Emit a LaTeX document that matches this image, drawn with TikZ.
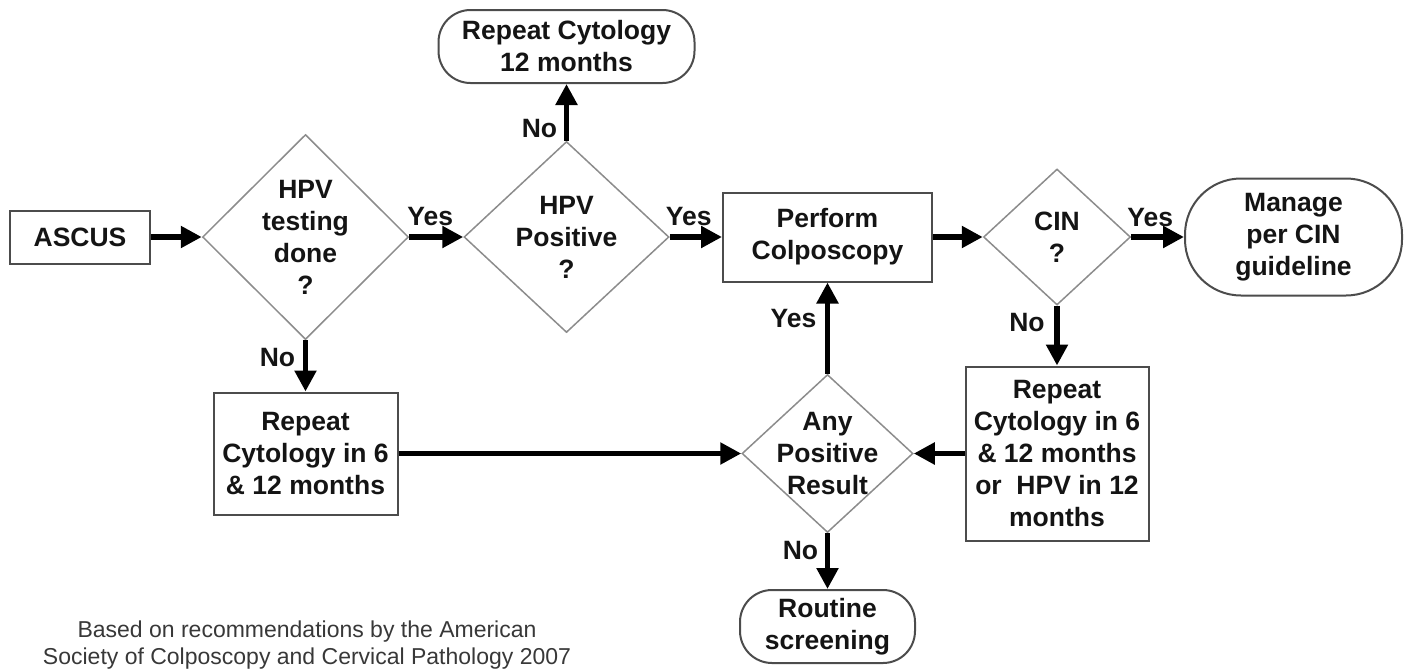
\documentclass[tikz,border=0pt]{standalone}
\usepackage{fontspec}
\setmainfont{Liberation Sans}
\usetikzlibrary{arrows.meta,shapes.geometric}
\begin{document}
\begin{tikzpicture}[x=1pt,y=-1pt,
  txt/.style={font=\bfseries\fontsize{26.5}{32}\selectfont, align=center, text=black!92},
  box/.style={txt, draw=black!70, line width=2pt, inner sep=0pt},
  term/.style={box, rounded corners=#1},
  dia/.style={draw=black!45, line width=1.5pt, shape=diamond, inner sep=0pt},
  arr/.style={line width=5.5pt, -{Triangle[length=21pt,width=21pt]}},
  lab/.style={txt, inner sep=0pt}
]
\useasboundingbox (0,0) rectangle (1405,670);

% nodes
\node[box, minimum width=140pt, minimum height=53pt] (ascus) at (80,237) {ASCUS};
\node[dia, minimum width=206pt, minimum height=205pt,
      label={[txt]center:{HPV\\testing\\done\\?}}] (d1) at (305.5,237) {};
\node[term=32pt, minimum width=256pt, minimum height=73pt] (rc12) at (566.5,46.5) {Repeat Cytology\\12 months};
\node[dia, minimum width=205pt, minimum height=191pt,
      label={[txt]center:{HPV\\Positive\\?}}] (d2) at (566.5,237) {};
\node[box, minimum width=209pt, minimum height=89pt] (colpo) at (827.5,237) {Perform\\Colposcopy};
\node[dia, minimum width=147pt, minimum height=136pt,
      label={[txt]center:{CIN\\?}}] (cin) at (1057,237) {};
\node[term=56pt, minimum width=217pt, minimum height=117pt] (manage) at (1293.5,237) {Manage\\per CIN\\guideline};
\node[box, minimum width=184pt, minimum height=122pt] (rcl) at (305.5,453.5) {Repeat\\Cytology in 6\\\& 12 months};
\node[dia, minimum width=171pt, minimum height=158pt,
      label={[txt]center:{Any\\Positive\\Result}}] (any) at (827.5,453.5) {};
\node[box, minimum width=183pt, minimum height=174pt] (rcr) at (1057,453.5) {Repeat\\Cytology in 6\\\& 12 months\\or\ \ HPV in 12\\months};
\node[term=32pt, minimum width=175pt, minimum height=73pt] (routine) at (827.5,626.5) {Routine\\screening};
\node[font=\fontsize{23}{27}\selectfont, text=black!78, align=center, inner sep=0pt] (note) at (307,645.5)
  {Based on recommendations by the American\\Society of Colposcopy and Cervical Pathology 2007};

% connectors
\draw[arr] (ascus.east) -- (d1.west);
\draw[arr] (d1.east) -- node[lab, at start, xshift=21pt, yshift=20pt] {Yes} (d2.west);
\draw[arr] (d2.north) -- node[lab, at start, xshift=-27pt, yshift=12pt] {No} (rc12.south);
\draw[arr] (d2.east) -- node[lab, at start, xshift=19pt, yshift=20pt] {Yes} (colpo.west);
\draw[arr] (colpo.east) -- (cin.west);
\draw[arr] (cin.east) -- node[lab, at start, xshift=19pt, yshift=19pt] {Yes} (manage.west);
\draw[arr] (d1.south) -- node[lab, at start, xshift=-28pt, yshift=-17pt] {No} (rcl.north);
\draw[arr] (rcl.east) -- (any.west);
\draw[arr] (rcr.west) -- (any.east);
\draw[arr] (any.north) -- node[lab, at start, xshift=-34pt, yshift=55pt] {Yes} (colpo.south);
\draw[arr] (cin.south) -- node[lab, at start, xshift=-30pt, yshift=-17pt] {No} (rcr.north);
\draw[arr] (any.south) -- node[lab, at start, xshift=-27pt, yshift=-17pt] {No} (routine.north);
\end{tikzpicture}
\end{document}
